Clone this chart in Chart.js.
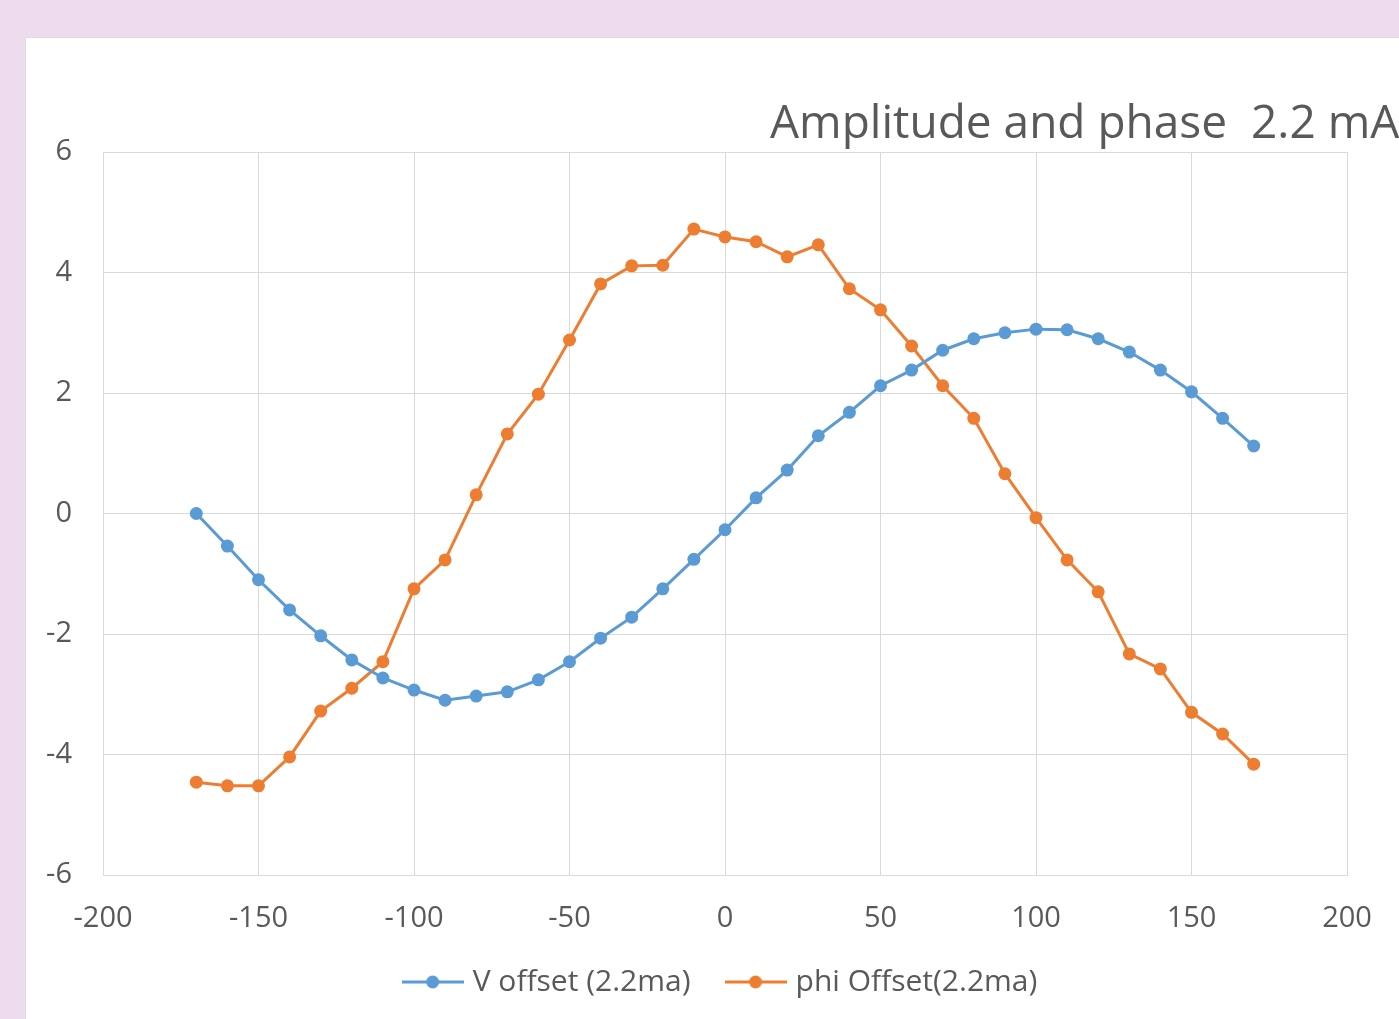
<!DOCTYPE html>
<html>
<head>
<meta charset="utf-8">
<script src="https://cdn.jsdelivr.net/npm/chart.js@4/dist/chart.umd.min.js"></script>
<style>
  html, body { margin: 0; padding: 0; background: #ecdcee; }
  #wrap { position: absolute; left: 0; top: 0; width: 1399px; height: 1019px; }
</style>
</head>
<body>
<div id="wrap"><canvas id="c" width="1399" height="1019"></canvas></div>
<script>
const xValues = [-170,-160,-150,-140,-130,-120,-110,-100,-90,-80,-70,-60,-50,-40,-30,-20,-10,0,10,20,30,40,50,60,70,80,90,100,110,120,130,140,150,160,170];
const vOffset = [0,-0.54,-1.1,-1.6,-2.03,-2.43,-2.73,-2.93,-3.1,-3.03,-2.96,-2.76,-2.46,-2.07,-1.72,-1.25,-0.76,-0.27,0.26,0.72,1.29,1.68,2.12,2.38,2.71,2.9,3.0,3.06,3.05,2.9,2.68,2.38,2.02,1.58,1.12];
const phiOffset = [-4.46,-4.52,-4.52,-4.04,-3.28,-2.9,-2.46,-1.25,-0.77,0.31,1.32,1.98,2.88,3.81,4.11,4.12,4.72,4.59,4.51,4.26,4.46,3.73,3.38,2.78,2.12,1.58,0.66,-0.07,-0.77,-1.3,-2.33,-2.58,-3.3,-3.66,-4.16];
const seriesNames = ['V offset (2.2ma)', 'phi Offset(2.2ma)'];
const titleText = 'Amplitude and phase  2.2 mA';
const xTicks = [-200,-150,-100,-50,0,50,100,150,200];
const yTicks = [-6,-4,-2,0,2,4,6];

const BLUE = '#5b9bd5', ORANGE = '#ed7d31', TXT = '#595959';
const FONT = '"Open Sans", "Noto Sans", sans-serif';

function legendSymbol(color) {
  const c = document.createElement('canvas');
  c.width = 62; c.height = 16;
  const g = c.getContext('2d');
  g.strokeStyle = color; g.lineWidth = 3;
  g.beginPath(); g.moveTo(0, 8); g.lineTo(62, 8); g.stroke();
  g.fillStyle = color;
  g.beginPath(); g.arc(31, 8, 6.5, 0, Math.PI * 2); g.fill();
  return c;
}
const symbols = [legendSymbol(BLUE), legendSymbol(ORANGE)];

const bgPlugin = {
  id: 'bg',
  afterLayout(chart) {
    // centre the legend under the plot area, as in the original
    if (chart.legend) { chart.legend.left = chart.chartArea.left - 5; }
  },
  beforeDraw(chart) {
    const ctx = chart.ctx;
    ctx.save();
    ctx.fillStyle = '#ecdcee';
    ctx.fillRect(0, 0, chart.width, chart.height);
    ctx.fillStyle = '#ffffff';
    ctx.fillRect(25, 37, chart.width - 25, chart.height - 37);
    ctx.strokeStyle = '#dcdcdc'; ctx.lineWidth = 1;
    ctx.beginPath(); ctx.moveTo(25.5, chart.height); ctx.lineTo(25.5, 37.5); ctx.lineTo(chart.width, 37.5); ctx.stroke();
    ctx.restore();
  }
};
const titlePlugin = {
  id: 'ttl',
  afterDraw(chart) {
    const ctx = chart.ctx;
    ctx.save();
    ctx.fillStyle = TXT;
    ctx.font = '46px ' + FONT;
    ctx.textBaseline = 'alphabetic';
    ctx.textAlign = 'left';
    ctx.fillText(titleText, 770, 138);
    ctx.restore();
  }
};

new Chart(document.getElementById('c'), {
  type: 'line',
  data: {
    datasets: [
      { label: seriesNames[0], data: xValues.map((x, i) => ({x, y: vOffset[i]})), borderColor: BLUE, backgroundColor: BLUE, borderWidth: 3, pointRadius: 6.5, pointHoverRadius: 6.5, pointBackgroundColor: BLUE, pointBorderWidth: 0, tension: 0 },
      { label: seriesNames[1], data: xValues.map((x, i) => ({x, y: phiOffset[i]})), borderColor: ORANGE, backgroundColor: ORANGE, borderWidth: 3, pointRadius: 6.5, pointHoverRadius: 6.5, pointBackgroundColor: ORANGE, pointBorderWidth: 0, tension: 0 }
    ]
  },
  options: {
    responsive: false,
    animation: false,
    layout: { padding: { top: 152, right: 52, left: 0, bottom: 12 } },
    plugins: {
      title: { display: false },
      tooltip: { enabled: false },
      legend: {
        position: 'bottom',
        labels: {
          usePointStyle: true,
          pointStyleWidth: 50,
          boxHeight: 16,
          padding: 40,
          color: TXT,
          font: { family: FONT, size: 30 },
          generateLabels(chart) {
            return chart.data.datasets.map((d, i) => ({
              text: d.label, pointStyle: symbols[i], fillStyle: d.borderColor, strokeStyle: d.borderColor,
              lineWidth: 0, hidden: false, datasetIndex: i, fontColor: TXT
            }));
          }
        }
      }
    },
    scales: {
      x: {
        type: 'linear', min: -200, max: 200,
        afterBuildTicks(s) { s.ticks = xTicks.map(v => ({value: v})); },
        afterFit(s) { s.height = 52; },
        grid: { color: '#d9d9d9', lineWidth: 1, drawTicks: false },
        border: { display: true, color: '#d9d9d9' },
        ticks: { color: TXT, font: { family: FONT, size: 29 }, padding: 26, maxRotation: 0 }
      },
      y: {
        min: -6, max: 6,
        afterBuildTicks(s) { s.ticks = yTicks.map(v => ({value: v})); },
        afterFit(s) { s.width = 103; },
        grid: { color: '#d9d9d9', lineWidth: 1, drawTicks: false },
        border: { display: true, color: '#d9d9d9' },
        ticks: { color: TXT, font: { family: FONT, size: 29 }, padding: 31 }
      }
    }
  },
  plugins: [bgPlugin, titlePlugin]
});
</script>
</body>
</html>
